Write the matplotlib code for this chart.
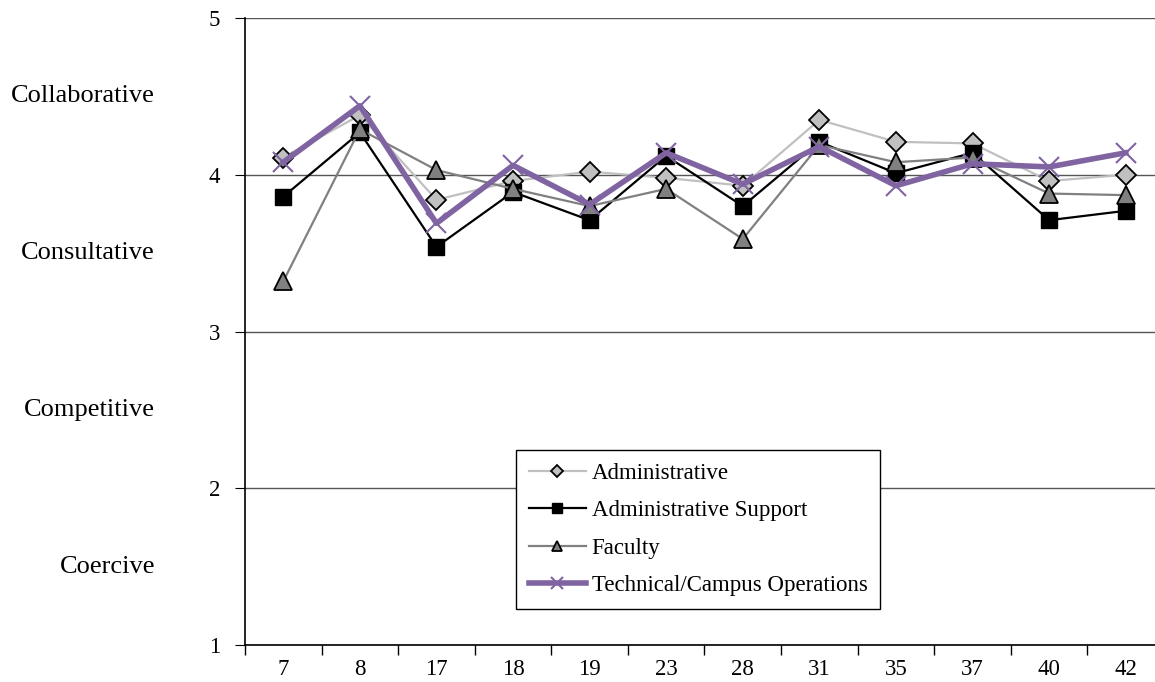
import matplotlib.pyplot as plt
import numpy as np

plt.rcParams['font.family'] = ['Liberation Serif', 'DejaVu Serif']

# Items on the x axis and the mean score for each staff group
items = ['7', '8', '17', '18', '19', '23', '28', '31', '35', '37', '40', '42']
administrative = [4.11, 4.38, 3.84, 3.96, 4.02, 3.98, 3.93, 4.35, 4.21, 4.20, 3.96, 4.00]
admin_support = [3.86, 4.27, 3.54, 3.89, 3.71, 4.12, 3.80, 4.21, 4.01, 4.14, 3.71, 3.77]
faculty = [3.32, 4.29, 4.03, 3.91, 3.80, 3.91, 3.59, 4.19, 4.08, 4.11, 3.88, 3.87]
technical = [4.08, 4.44, 3.69, 4.06, 3.81, 4.14, 3.94, 4.18, 3.93, 4.07, 4.05, 4.14]

styles = ['Collaborative', 'Consultative', 'Competitive', 'Coercive']
style_pos = [4.5, 3.5, 2.5, 1.5]

fig = plt.figure(figsize=(11.55, 6.82), dpi=100)
ax = fig.add_axes([245 / 1155, 37 / 682, 919 / 1155, 627 / 682])

x = np.arange(len(items))

ax.plot(x, administrative, color='#c0c0c0', lw=1.6, marker='D', ms=10,
        mfc='#c0c0c0', mec='black', mew=1.3, label='Administrative', zorder=3)
ax.plot(x, admin_support, color='black', lw=1.6, marker='s', ms=12,
        mfc='black', mec='black', label='Administrative Support', zorder=4)
ax.plot(x, faculty, color='#808080', lw=1.6, marker='^', ms=13,
        mfc='#808080', mec='black', mew=1.3, label='Faculty', zorder=5)
ax.plot(x, technical, color='#8064a2', lw=4, marker='x', ms=15, mew=1.5,
        label='Technical/Campus Operations', zorder=6)

ax.set_xlim(-0.5, len(items) - 0.5)
ax.set_ylim(1, 5)
ax.set_yticks([1, 2, 3, 4, 5])
ax.yaxis.grid(True, color='#555555', lw=1)
ax.set_axisbelow(True)

# category labels centred, tick marks between categories
ax.set_xticks(x)
ax.set_xticklabels(items, fontsize=16.5)
ax.set_xticks(np.arange(len(items) + 1) - 0.5, minor=True)
ax.tick_params(axis='x', which='major', length=0, pad=10)
ax.tick_params(axis='x', which='minor', length=7, direction='out', width=1)
ax.tick_params(axis='y', length=7, direction='out', labelsize=16.5, pad=11)

for sp in ['top', 'right']:
    ax.spines[sp].set_visible(False)
ax.spines['left'].set_linewidth(1.2)
ax.spines['bottom'].set_linewidth(1.2)

# style names beside the scale bands
for name, yv in zip(styles, style_pos):
    ax.annotate(name, xy=(155 / 1155, yv), xycoords=('figure fraction', 'data'),
                ha='right', va='center', fontsize=19)

leg = ax.legend(loc='upper left', bbox_to_anchor=(516 / 1155, 1 - 450 / 682),
                bbox_transform=fig.transFigure, borderaxespad=0, fontsize=16.5,
                markerscale=0.6, handlelength=2.5, handletextpad=0.25,
                labelspacing=0.72, fancybox=False, edgecolor='black',
                framealpha=1, borderpad=0.55)
leg.get_frame().set_linewidth(1)

fig.savefig('out.png', dpi=100)
